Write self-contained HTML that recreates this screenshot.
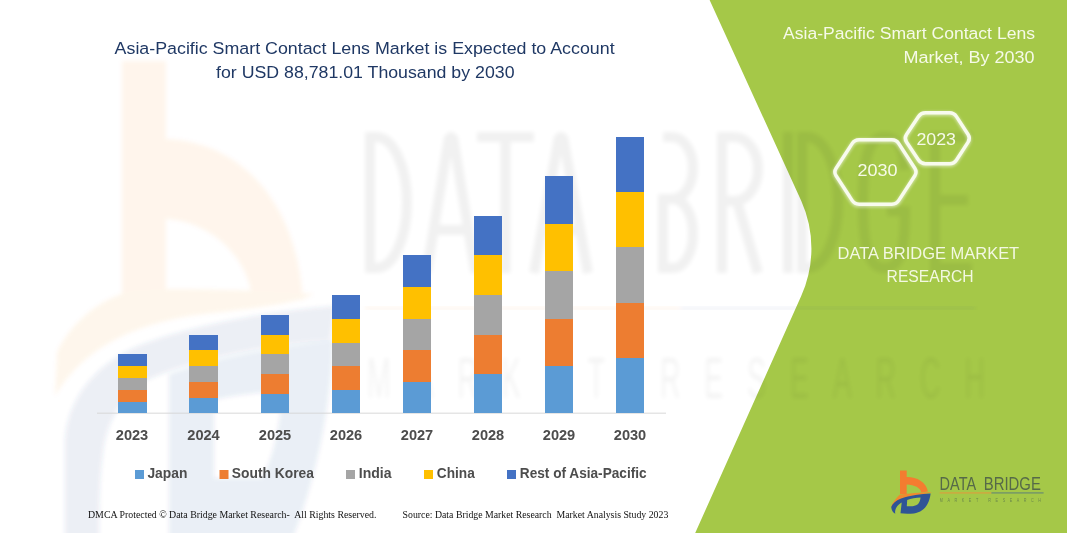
<!DOCTYPE html>
<html>
<head>
<meta charset="utf-8">
<title>Asia-Pacific Smart Contact Lens Market</title>
<style>
html,body{margin:0;padding:0;background:#ffffff;}
body{width:1067px;height:533px;overflow:hidden;font-family:"Liberation Sans",sans-serif;}
svg{display:block;}
text{font-family:"Liberation Sans",sans-serif;}
.serif{font-family:"Liberation Serif",serif;}
</style>
</head>
<body>
<svg width="1067" height="533" viewBox="0 0 1067 533">
  <defs>
    <g id="dbmark">
      <path d="M900 470.4 H906.7 V476.9 C916 476.6 926.3 481.5 927.9 491.6 L921.2 492.6 C920.6 488 914.5 484.8 906.7 484.6 V494 H900 Z" fill="#f47c30"/>
      <path d="M932.2 491.9 C920 492.5 908 493.3 900 494.6 C896.5 497.6 893 502 891.2 506.6 L893 508.5 C896 502 903 498 912 496 C920 494.5 927 494 932.2 491.9 Z" fill="#f08a2e"/>
      <path d="M930.6 493.4 C921 493.8 910 495 900.5 498.8 C896 500.7 892.5 503.7 891.2 507 C891.5 510.5 893 512.5 895.3 513.8 C894.8 511.5 895.2 509.5 896.4 507.4 C897.5 505.5 899.5 503.8 901.7 502.6 L900.5 513.2 C904 513.8 909 513.8 913.9 513.4 C920 512.6 925 509 927.5 504 C929.3 500.5 930.2 497 930.6 493.4 Z M907.2 499.9 L906.8 506.2 L912.7 506.2 C915.3 505.9 917.2 505 918.7 503.3 C919.8 501.6 920.4 499.6 920.5 497.6 C916 497.8 911 498.5 907.2 499.9 Z" fill="#2f5496" fill-rule="evenodd"/>
    </g>

    <filter id="blur2" x="-10%" y="-10%" width="120%" height="120%"><feGaussianBlur stdDeviation="2"/></filter>
    <filter id="hexsh" x="-20%" y="-20%" width="140%" height="140%"><feGaussianBlur stdDeviation="1.6"/></filter>
  </defs>
  <rect x="0" y="0" width="1067" height="533" fill="#ffffff"/>

  <!-- faint b-logo watermark -->
  <g id="wm-b" filter="url(#blur2)">
    <g opacity="0.075">
      <path d="M122 61 H166 V139 C232 141 296 192 303 300 L252 300 C250 262 215 222 166 219 V300 H122 Z" fill="#f47c30"/>
      <path d="M314 294 C262 291 182 286 131 291 C100 299 72 321 57 352 L55 396 C82 350 130 326 190 316 C240 309 292 306 314 294 Z" fill="#f08a2e"/>
    </g>
    <g opacity="0.095" fill="#2f5496">
      <path d="M335 306 C260 312 180 328 131 349 C95 367 68 398 65 440 L65 540 L99 540 C99 500 100 470 104 445 C110 415 125 395 145 381 C185 362 260 345 330 340 Z"/>
      <path d="M169 374 C220 356 280 346 333 340 C331 400 320 470 292 540 L169 540 Z M214 400 L214 478 L262 478 C274 455 280 425 282 392 C258 392 236 395 214 400 Z" fill-rule="evenodd" opacity="0.85"/>
    </g>
  </g>

  <!-- green panel -->
  <path id="green" d="M709.6 0 L1067 0 L1067 533 L695.2 533 L801.2 296 A116 116 0 0 0 801.3 201 Z" fill="#a5c848"/>

  <!-- gray DATA BRIDGE watermark -->
  <g id="wm-text" filter="url(#blur2)" opacity="0.056">
    <g fill="none" stroke="#000000" stroke-width="10" stroke-linejoin="miter" stroke-miterlimit="10">
      <path d="M370 137 H376 A31 65.5 0 0 1 376 268 H370 Z"/>
      <path d="M426.5 273 L449 137 H453 L475.5 273 M434 230 H468" stroke-linejoin="bevel"/>
      <path d="M477 137 H534 M505.5 137 V273"/>
      <path d="M534 273 L559 137 H563 L588 273 M542.5 230 H579.5" stroke-linejoin="bevel"/>
      <path d="M663 137 H672 A21 31 0 0 1 672 199 H663 M663 199 H673 A20 34.5 0 0 1 673 268 H663 Z"/>
      <path d="M722 273 V137 H734 A24 32 0 0 1 734 201 H722 M737 201 L758 273"/>
      <path d="M788 132 V273"/>
      <path d="M802 137 H807 A31 65.5 0 0 1 807 268 H802 Z"/>
      <path d="M904 170 C904 146 897 137 884 137 C868 137 863 160 863 202 C863 245 868 268 884 268 C899 268 905 255 905 211 H887"/>
      <path d="M972 137 H935 V268 H972 M935 200 H968"/>
    </g>
    <text transform="translate(367,398) scale(0.5,1)" font-size="57" fill="#000000" fill-opacity="0.85" textLength="1236" lengthAdjust="spacing">MARKET RESEARCH</text>
  </g>
  <g filter="url(#blur2)" opacity="0.10">
    <rect x="365" y="307" width="315" height="2.5" fill="#f58220"/>
    <rect x="680" y="307" width="295" height="2.5" fill="#2f5597"/>
  </g>

  <!-- title -->
  <g fill="#1f3864" font-size="16.8">
    <text x="114.6" y="54" textLength="500" lengthAdjust="spacingAndGlyphs">Asia-Pacific Smart Contact Lens Market is Expected to Account</text>
    <text x="216" y="78" textLength="298.5" lengthAdjust="spacingAndGlyphs">for USD 88,781.01 Thousand by 2030</text>
  </g>

  <!-- axis -->
  <rect x="97" y="412.7" width="569" height="0.9" fill="#d4d4d4"/>

  <!-- bars -->
  <g id="bars" shape-rendering="crispEdges">
    <!-- 2023 -->
    <rect x="118" y="354" width="29" height="12" fill="#4472c4"/>
    <rect x="118" y="366" width="29" height="12" fill="#ffc000"/>
    <rect x="118" y="378" width="29" height="12" fill="#a5a5a5"/>
    <rect x="118" y="390" width="29" height="12" fill="#ed7d31"/>
    <rect x="118" y="402" width="29" height="11" fill="#5b9bd5"/>
    <!-- 2024 -->
    <rect x="189" y="335" width="29" height="15" fill="#4472c4"/>
    <rect x="189" y="350" width="29" height="16" fill="#ffc000"/>
    <rect x="189" y="366" width="29" height="16" fill="#a5a5a5"/>
    <rect x="189" y="382" width="29" height="16" fill="#ed7d31"/>
    <rect x="189" y="398" width="29" height="15" fill="#5b9bd5"/>
    <!-- 2025 -->
    <rect x="261" y="315" width="28" height="20" fill="#4472c4"/>
    <rect x="261" y="335" width="28" height="19" fill="#ffc000"/>
    <rect x="261" y="354" width="28" height="20" fill="#a5a5a5"/>
    <rect x="261" y="374" width="28" height="20" fill="#ed7d31"/>
    <rect x="261" y="394" width="28" height="19" fill="#5b9bd5"/>
    <!-- 2026 -->
    <rect x="332" y="295" width="28" height="24" fill="#4472c4"/>
    <rect x="332" y="319" width="28" height="24" fill="#ffc000"/>
    <rect x="332" y="343" width="28" height="23" fill="#a5a5a5"/>
    <rect x="332" y="366" width="28" height="24" fill="#ed7d31"/>
    <rect x="332" y="390" width="28" height="23" fill="#5b9bd5"/>
    <!-- 2027 -->
    <rect x="403" y="255" width="28" height="32" fill="#4472c4"/>
    <rect x="403" y="287" width="28" height="32" fill="#ffc000"/>
    <rect x="403" y="319" width="28" height="31" fill="#a5a5a5"/>
    <rect x="403" y="350" width="28" height="32" fill="#ed7d31"/>
    <rect x="403" y="382" width="28" height="31" fill="#5b9bd5"/>
    <!-- 2028 -->
    <rect x="474" y="216" width="28" height="39" fill="#4472c4"/>
    <rect x="474" y="255" width="28" height="40" fill="#ffc000"/>
    <rect x="474" y="295" width="28" height="40" fill="#a5a5a5"/>
    <rect x="474" y="335" width="28" height="39" fill="#ed7d31"/>
    <rect x="474" y="374" width="28" height="39" fill="#5b9bd5"/>
    <!-- 2029 -->
    <rect x="545" y="176" width="28" height="48" fill="#4472c4"/>
    <rect x="545" y="224" width="28" height="47" fill="#ffc000"/>
    <rect x="545" y="271" width="28" height="48" fill="#a5a5a5"/>
    <rect x="545" y="319" width="28" height="47" fill="#ed7d31"/>
    <rect x="545" y="366" width="28" height="47" fill="#5b9bd5"/>
    <!-- 2030 -->
    <rect x="616" y="137" width="28" height="55" fill="#4472c4"/>
    <rect x="616" y="192" width="28" height="55" fill="#ffc000"/>
    <rect x="616" y="247" width="28" height="56" fill="#a5a5a5"/>
    <rect x="616" y="303" width="28" height="55" fill="#ed7d31"/>
    <rect x="616" y="358" width="28" height="55" fill="#5b9bd5"/>
  </g>

  <!-- year labels -->
  <g fill="#4d4d4d" font-size="14.6" font-weight="bold" text-anchor="middle">
    <text x="132" y="439.6">2023</text>
    <text x="203.5" y="439.6">2024</text>
    <text x="275" y="439.6">2025</text>
    <text x="346" y="439.6">2026</text>
    <text x="417" y="439.6">2027</text>
    <text x="488" y="439.6">2028</text>
    <text x="559" y="439.6">2029</text>
    <text x="630" y="439.6">2030</text>
  </g>

  <!-- legend -->
  <g font-size="14.2" font-weight="bold" fill="#4d4d4d">
    <rect x="135" y="470" width="9" height="9" fill="#5b9bd5"/>
    <text x="147.4" y="478" textLength="40" lengthAdjust="spacingAndGlyphs">Japan</text>
    <rect x="219.5" y="470" width="9" height="9" fill="#ed7d31"/>
    <text x="231.8" y="478" textLength="82.2" lengthAdjust="spacingAndGlyphs">South Korea</text>
    <rect x="346" y="470" width="9" height="9" fill="#a5a5a5"/>
    <text x="358.8" y="478" textLength="32.8" lengthAdjust="spacingAndGlyphs">India</text>
    <rect x="424" y="470" width="9" height="9" fill="#ffc000"/>
    <text x="436.8" y="478" textLength="38" lengthAdjust="spacingAndGlyphs">China</text>
    <rect x="507" y="470" width="9" height="9" fill="#4472c4"/>
    <text x="519.8" y="478" textLength="126.8" lengthAdjust="spacingAndGlyphs">Rest of Asia-Pacific</text>
  </g>

  <!-- footer -->
  <g class="serif" font-size="10.4" fill="#111111">
    <text class="serif" x="88" y="518.4" textLength="288.5" lengthAdjust="spacingAndGlyphs" xml:space="preserve">DMCA Protected © Data Bridge Market Research-  All Rights Reserved.</text>
    <text class="serif" x="402.6" y="518.4" textLength="265.7" lengthAdjust="spacingAndGlyphs" xml:space="preserve">Source: Data Bridge Market Research  Market Analysis Study 2023</text>
  </g>

  <!-- right title -->
  <g fill="#f6fae8" font-size="16.8">
    <text x="783" y="38.8" textLength="252" lengthAdjust="spacingAndGlyphs">Asia-Pacific Smart Contact Lens</text>
    <text x="903.6" y="62.9" textLength="131" lengthAdjust="spacingAndGlyphs">Market, By 2030</text>
  </g>

  <!-- hexagons -->
  <g fill="none" stroke-linejoin="round">
    <g filter="url(#hexsh)" stroke="#ffffff" stroke-width="4.5" opacity="0.5" transform="translate(0,1)">
      <path d="M836.1 175.8 Q833.6 172.0 836.1 168.2 L852.1 143.6 Q854.6 139.8 859.1 139.8 L891.9 139.8 Q896.4 139.8 898.8 143.6 L914.8 168.2 Q917.2 172.0 914.8 175.8 L898.8 200.4 Q896.4 204.2 891.9 204.2 L859.1 204.2 Q854.6 204.2 852.1 200.4 Z"/>
      <path d="M906.5 142.0 Q904.0 138.3 906.5 134.6 L918.5 116.5 Q921.0 112.8 925.5 112.8 L949.5 112.8 Q954.0 112.8 956.5 116.6 L968.1 134.5 Q970.6 138.3 968.1 142.1 L956.5 160.0 Q954.0 163.8 949.5 163.8 L925.5 163.8 Q921.0 163.8 918.5 160.1 Z"/>
    </g>
    <g stroke="#f8fbee" stroke-width="3.5">
      <path d="M836.1 175.8 Q833.6 172.0 836.1 168.2 L852.1 143.6 Q854.6 139.8 859.1 139.8 L891.9 139.8 Q896.4 139.8 898.8 143.6 L914.8 168.2 Q917.2 172.0 914.8 175.8 L898.8 200.4 Q896.4 204.2 891.9 204.2 L859.1 204.2 Q854.6 204.2 852.1 200.4 Z"/>
      <path d="M906.5 142.0 Q904.0 138.3 906.5 134.6 L918.5 116.5 Q921.0 112.8 925.5 112.8 L949.5 112.8 Q954.0 112.8 956.5 116.6 L968.1 134.5 Q970.6 138.3 968.1 142.1 L956.5 160.0 Q954.0 163.8 949.5 163.8 L925.5 163.8 Q921.0 163.8 918.5 160.1 Z"/>
    </g>
  </g>
  <g fill="#f6fae8" font-size="17.4">
    <text x="857.4" y="175.8" textLength="40" lengthAdjust="spacingAndGlyphs">2030</text>
    <text x="916.4" y="145.2" textLength="39.6" lengthAdjust="spacingAndGlyphs">2023</text>
  </g>

  <!-- DBMR text -->
  <g fill="#f3f8e2" font-size="16.8">
    <text x="837.6" y="258.5" textLength="181.6" lengthAdjust="spacingAndGlyphs">DATA BRIDGE MARKET</text>
    <text x="886.6" y="282.2" textLength="87" lengthAdjust="spacingAndGlyphs">RESEARCH</text>
  </g>

  <!-- logo -->
  <g id="logo">
    <use href="#dbmark"/>
    <text x="939.6" y="489.9" font-size="18" fill="#566a48" textLength="36.5" lengthAdjust="spacingAndGlyphs">DATA</text>
    <text x="983.8" y="489.9" font-size="18" fill="#566a48" textLength="57" lengthAdjust="spacingAndGlyphs">BRIDGE</text>
    <rect x="939.6" y="492.2" width="51.8" height="1.4" fill="#d3a640"/>
    <rect x="991.4" y="492.2" width="52.2" height="1.4" fill="#73956a"/>
    <text transform="translate(939.8,501.8) scale(0.75,1)" font-size="5" fill="#6d8a4a" textLength="135" lengthAdjust="spacing">MARKET RESEARCH</text>
  </g>
</svg>
</body>
</html>
